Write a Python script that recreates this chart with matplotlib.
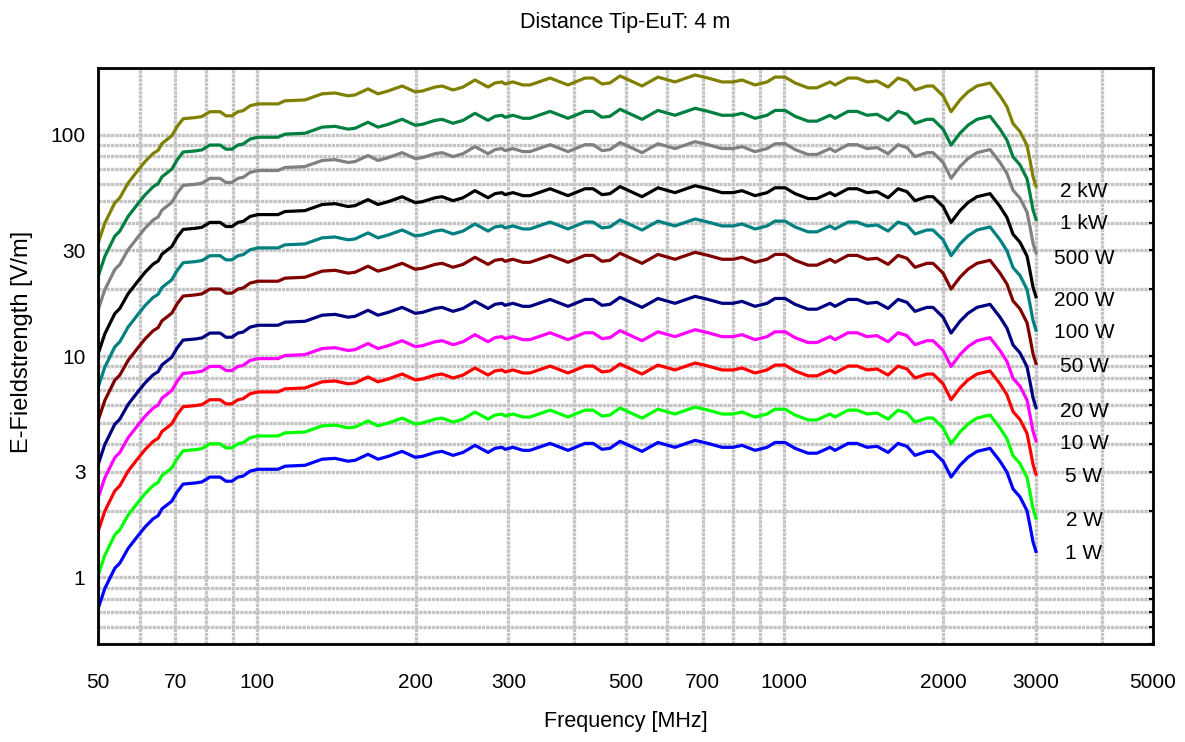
import matplotlib.pyplot as plt
from matplotlib.ticker import FixedLocator, NullFormatter
import numpy as np

plt.rcParams['font.family'] = ['Liberation Sans', 'DejaVu Sans']

# 1 W curve (MHz, V/m)
freq = [50, 51.5, 53.8, 55.0, 57.0, 59.5, 61.4, 63.6, 65.0, 66.1, 69.0, 70.6,
        72.5, 76.4, 78.7, 81.5, 85.2, 87.4, 89.7, 92.1, 94.2, 97.1, 100.5, 103.7,
        109.7, 113.1, 123.4, 133.0, 140.7, 148.9, 153.5, 162.5, 169.7, 177.3,
        188.6, 199.6, 205.8, 217.8, 224.5, 235.5, 246.0, 259.2, 274.4, 282.9,
        291.7, 295.5, 305.9, 319.6, 329.5, 359.8, 389.0, 419.0, 433.9, 451.3,
        467.3, 488.2, 537.4, 576.1, 620.6, 677.5, 716.9, 762.0, 799.4, 831.5,
        880.0, 927.5, 960.3, 1003.5, 1048, 1109, 1153, 1221, 1248, 1321, 1374,
        1435, 1499, 1573, 1643, 1708, 1769, 1864, 1914, 2000, 2071, 2153, 2230,
        2319, 2455, 2564, 2643, 2714, 2798, 2885, 2923, 2961, 3000]
e_1w = [0.72, 0.89, 1.10, 1.16, 1.35, 1.54, 1.69, 1.84, 1.90, 2.04, 2.21, 2.43,
        2.64, 2.67, 2.70, 2.84, 2.84, 2.72, 2.72, 2.84, 2.87, 3.02, 3.08, 3.08,
        3.08, 3.18, 3.21, 3.42, 3.45, 3.35, 3.38, 3.60, 3.42, 3.52,
        3.71, 3.49, 3.52, 3.67, 3.71, 3.56, 3.67, 3.95, 3.67, 3.83,
        3.87, 3.79, 3.87, 3.75, 3.75, 4.03, 3.75, 4.03, 4.03, 3.79,
        3.83, 4.12, 3.71, 4.07, 3.87, 4.16, 4.03, 3.87, 3.87, 3.95,
        3.75, 3.87, 4.07, 4.07, 3.83, 3.64, 3.64, 3.87, 3.75, 4.03, 4.03,
        3.87, 3.91, 3.67, 4.03, 3.91, 3.56, 3.71, 3.71, 3.35, 2.84, 3.21, 3.49,
        3.71, 3.83, 3.35, 2.99, 2.51, 2.31, 2.00, 1.71, 1.45, 1.31]

# Leistungsstufen: Beschriftung, Pegel relativ zu 1 W, Farbe, Lage der Beschriftung
powers = ['1 W', '2 W', '5 W', '10 W', '20 W', '50 W', '100 W', '200 W', '500 W', '1 kW', '2 kW']
gains = [1.0, 1.414, 2.236, 3.162, 4.472, 7.071, 10.0, 14.14, 22.36, 31.62, 44.72]
colors = ['#0000ff', '#00ff00', '#ff0000', '#ff00ff', '#000080', '#800000',
          '#008080', '#000000', '#808080', '#008040', '#808000']
label_y = [1.28, 1.80, 2.87, 4.03, 5.61, 8.93, 12.8, 17.8, 27.5, 39.5, 55.5]

x_ticks = [50, 70, 100, 200, 300, 500, 700, 1000, 2000, 3000, 5000]
y_ticks = [1, 3, 10, 30, 100]

fig = plt.figure(figsize=(11.85, 7.42), dpi=100)
ax = fig.add_axes([0.0827, 0.132, 0.8903, 0.7763])

for p, g, c in zip(powers, gains, colors):
    ax.plot(freq, np.array(e_1w) * g, color=c, lw=2.3, solid_joinstyle='round')

for p, ly in zip(powers, label_y):
    ax.text(3700, ly, p, ha='center', va='center', fontsize=15)

ax.set_xscale('log')
ax.set_yscale('log')
ax.set_xlim(50, 5000)
ax.set_ylim(0.5, 200)

ax.xaxis.set_major_locator(FixedLocator(x_ticks))
ax.xaxis.set_ticklabels([str(t) for t in x_ticks])
ax.xaxis.set_minor_locator(FixedLocator([m * 10 ** d for d in range(1, 4) for m in range(1, 10)]))
ax.xaxis.set_minor_formatter(NullFormatter())
ax.yaxis.set_major_locator(FixedLocator(y_ticks))
ax.yaxis.set_ticklabels([str(t) for t in y_ticks])
ax.yaxis.set_minor_locator(FixedLocator([m * 10 ** d for d in range(-1, 3) for m in range(1, 10)]))
ax.yaxis.set_minor_formatter(NullFormatter())

# dicke, hellgraue, fein gepunktete Gitterlinien
ax.grid(True, which='both', color='#c4c4c4', lw=2.4, ls=(0, (1, 0.25)))
ax.set_axisbelow(True)

ax.tick_params(axis='x', which='both', bottom=False, top=False, labelsize=15, pad=17)
ax.tick_params(axis='y', which='both', left=False, right=True, direction='in',
               length=3, width=1.5, labelsize=15, pad=9)

for s in ax.spines.values():
    s.set_linewidth(2)

ax.set_xlabel('Frequency [MHz]', fontsize=15.5, va='center')
ax.xaxis.set_label_coords(0.5, -0.135)
ax.set_ylabel('E-Fieldstrength [V/m]', fontsize=17, va='center')
ax.yaxis.set_label_coords(-0.072, 0.524)

fig.text(0.5275, 0.970, 'Distance Tip-EuT: 4 m', ha='center', va='center', fontsize=15.5)

fig.savefig('out.png', dpi=100)
